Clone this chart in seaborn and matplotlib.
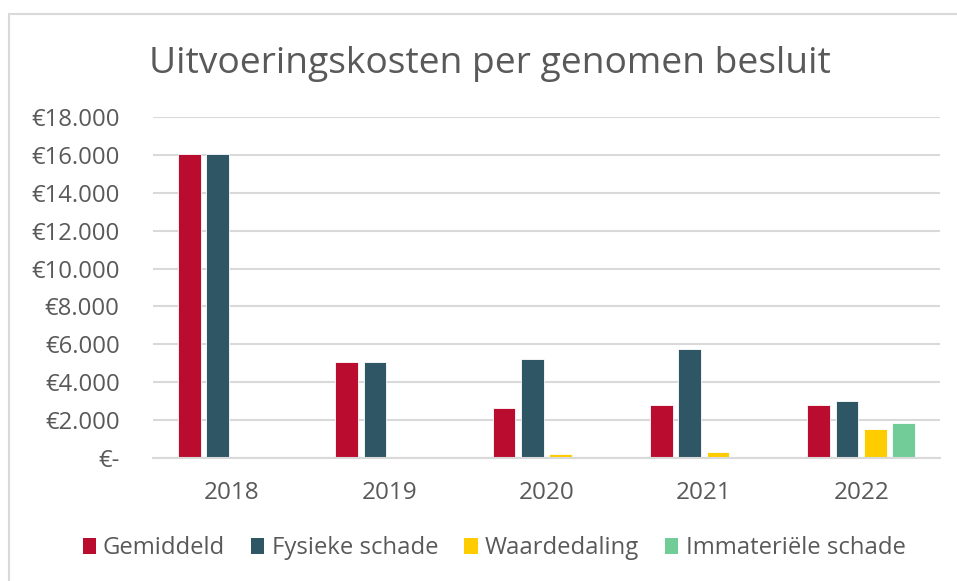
import matplotlib
matplotlib.use("Agg")
import matplotlib.pyplot as plt
from matplotlib.lines import Line2D
from matplotlib.patches import Patch
import numpy as np
import pandas as pd
import seaborn as sns

# Data: execution costs per decision taken (euro)
years = ["2018", "2019", "2020", "2021", "2022"]
series = ["Gemiddeld", "Fysieke schade", "Waardedaling", "Immateriële schade"]
gemiddeld = [16080, 5050, 2640, 2790, 2770]
fysieke_schade = [16080, 5050, 5200, 5750, 3000]
waardedaling = [np.nan, np.nan, 180, 300, 1500]
immateriele_schade = [np.nan, np.nan, np.nan, np.nan, 1830]
colors = ["#B90C2F", "#2E5665", "#FFCC00", "#72CC98"]
y_ticks = [0, 2000, 4000, 6000, 8000, 10000, 12000, 14000, 16000, 18000]

values = [gemiddeld, fysieke_schade, waardedaling, immateriele_schade]
df = pd.DataFrame(
    [(y, s, v) for s, vals in zip(series, values) for y, v in zip(years, vals)],
    columns=["jaar", "reeks", "kosten"],
)

sns.set_theme(style="white")
plt.rcParams["font.family"] = ["Open Sans", "DejaVu Sans"]
text_color = "#595959"
grid_color = "#D9D9D9"

fig = plt.figure(figsize=(9.57, 5.81), dpi=100)
ax = fig.add_axes([153 / 957, 1 - 457.7 / 581, (940 - 153) / 957, (457.7 - 117.3) / 581])

sns.barplot(
    data=df, x="jaar", y="kosten", hue="reeks",
    order=years, hue_order=series, palette=colors,
    width=0.72, gap=0.2, saturation=1, ax=ax,
    edgecolor="white", linewidth=0.6, legend=False, errorbar=None,
)

ax.set_xlim(-0.5, len(years) - 0.5)
ax.set_ylim(0, 18000)
ax.set_yticks(y_ticks)
ax.set_yticklabels(["€-"] + [f"€{v:,}".replace(",", ".") for v in y_ticks[1:]])
ax.set_xlabel("")
ax.set_ylabel("")
ax.grid(axis="y", color=grid_color, linewidth=1.5)
ax.set_axisbelow(True)
for side in ["top", "right", "left"]:
    ax.spines[side].set_visible(False)
ax.spines["bottom"].set_color(grid_color)
ax.spines["bottom"].set_linewidth(1.5)
ax.tick_params(axis="both", length=0, labelcolor=text_color)
ax.tick_params(axis="y", labelsize=17.2, pad=24)
ax.tick_params(axis="x", labelsize=17.5, pad=17)

fig.text(490 / 957, 1 - 72.5 / 581, "Uitvoeringskosten per genomen besluit",
         ha="center", va="baseline", fontsize=26.8, color=text_color)

handles = [Patch(facecolor=c, edgecolor="none") for c in colors]
fig.legend(handles, series, loc="center", bbox_to_anchor=(494 / 957, 1 - 548 / 581),
           ncol=4, frameon=False, fontsize=17.2, labelcolor=text_color,
           handlelength=0.55, handleheight=0.65, handletextpad=0.3, columnspacing=1.1)

# chart area border (left and top edges)
fig.add_artist(Line2D([8.5 / 957, 8.5 / 957], [0, 1 - 13.5 / 581], color=grid_color,
                      linewidth=1.5, transform=fig.transFigure))
fig.add_artist(Line2D([8.5 / 957, 1], [1 - 13.5 / 581, 1 - 13.5 / 581], color=grid_color,
                      linewidth=1.5, transform=fig.transFigure))

fig.savefig("out.png", dpi=100)
